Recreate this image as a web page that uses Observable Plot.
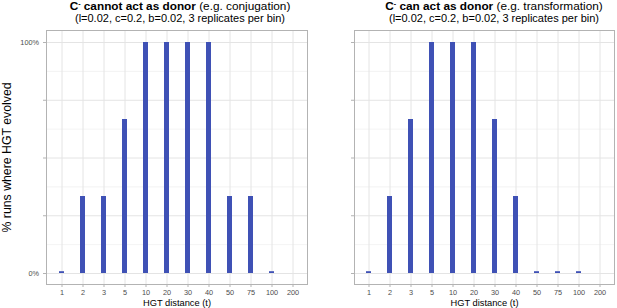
<!DOCTYPE html>
<html><head><meta charset="utf-8">
<script src="https://cdn.jsdelivr.net/npm/d3@7"></script>
<script src="https://cdn.jsdelivr.net/npm/@observablehq/plot@0.6"></script>
<style>
body{margin:0;background:#fff;font-family:"Liberation Sans",Arial,sans-serif;}
#wrap{position:relative;width:617px;height:308px;overflow:hidden;background:#fff;}
.t{position:absolute;white-space:nowrap;line-height:12px;color:#000;transform:translateX(-50%);}
.t1{font-size:11.8px;}
.t2{font-size:11px;}
.t sup{font-size:7px;vertical-align:4px;line-height:0;}
#wrap svg{position:absolute;top:0;}
</style></head><body><div id="wrap"></div>
<script>
const distances = ["1","2","3","5","10","20","30","40","50","75","100","200"];
const cannotDonor = [0, 1/3, 1/3, 2/3, 1, 1, 1, 1, 1/3, 1/3, 0, null];
const canDonor = [0, 1/3, 2/3, 1, 1, 1, 2/3, 1/3, 0, 0, 0, null];
const yTicks = [0, 0.25, 0.5, 0.75, 1];
const yMinor = [0.125, 0.375, 0.625, 0.875];
const yTickLabels = {0: "0%", 1: "100%"};
const titleBold = ["C<sup>-</sup> cannot act as donor", "C<sup>-</sup> can act as donor"];
const titleRest = ["(e.g. conjugation)", "(e.g. transformation)"];
const subtitle = "(l=0.02, c=0.2, b=0.02, 3 replicates per bin)";
const xTitle = "HGT distance (t)";
const yTitle = "% runs where HGT evolved";

const wrap = document.getElementById("wrap");

function panel(values, {left, width, marginLeft, showYLabels}) {
  const data = distances.map((d, i) => ({d, v: values[i]}));
  const bars = data.filter(r => r.v != null && r.v > 0);
  const zeros = data.filter(r => r.v === 0);
  const marks = [
    Plot.gridY(yMinor, {stroke: "#eeeeee", strokeOpacity: 1, strokeWidth: 0.7}),
    Plot.gridY(yTicks, {stroke: "#e4e4e4", strokeOpacity: 1, strokeWidth: 1}),
    Plot.gridX(distances, {stroke: "#e4e4e4", strokeOpacity: 1, strokeWidth: 1}),
    Plot.barY(bars, {x: "d", y: "v", fill: "#3f51b5"}),
    Plot.barY(zeros, {x: "d", y: "v", fill: "#3f51b5", insetTop: -1.8}),
    Plot.frame({stroke: "#b3b3b3", strokeWidth: 1}),
    Plot.axisY(yTicks, {
      tickFormat: d => showYLabels ? (yTickLabels[d] || "") : "",
      tickSize: 3, tickPadding: 4.5, stroke: "#b3b3b3", fill: "#4d4d4d", label: null
    }),
    Plot.axisX({tickSize: 3, tickPadding: 2.5, stroke: "#b3b3b3", fill: "#4d4d4d", label: null}),
    Plot.text([xTitle], {text: d => d, frameAnchor: "bottom", dy: 21, lineAnchor: "bottom", fill: "#000", fontSize: 9.3})
  ];
  if (showYLabels) {
    marks.push(Plot.text([yTitle], {text: d => d, frameAnchor: "left", textAnchor: "middle", rotate: -90, dx: -35.5, lineAnchor: "bottom", fill: "#000", fontSize: 12.3}));
  }
  const chart = Plot.plot({
    width, height: 308, marginLeft, marginRight: 3, marginTop: 30, marginBottom: 24,
    style: {fontFamily: "Liberation Sans, Arial, sans-serif", fontSize: "7.3px", color: "#4d4d4d", background: "transparent", overflow: "visible"},
    x: {type: "band", domain: distances, paddingInner: 0.77, paddingOuter: 0.485},
    y: {domain: [0, 1], range: [273, 42]},
    marks
  });
  chart.style.left = left + "px";
  wrap.appendChild(chart);
}

panel(cannotDonor, {left: 0, width: 310, marginLeft: 46, showYLabels: true});
panel(canDonor, {left: 310, width: 307, marginLeft: 44, showYLabels: false});

const centers = [180, 494];
centers.forEach((c, i) => {
  const t1 = document.createElement("div");
  t1.className = "t t1";
  t1.style.left = c + "px";
  t1.style.top = "0px";
  t1.innerHTML = "<b>" + titleBold[i] + "</b> " + titleRest[i];
  wrap.appendChild(t1);
  const t2 = document.createElement("div");
  t2.className = "t t2";
  t2.style.left = c + "px";
  t2.style.top = "12px";
  t2.textContent = subtitle;
  wrap.appendChild(t2);
});
</script></body></html>
